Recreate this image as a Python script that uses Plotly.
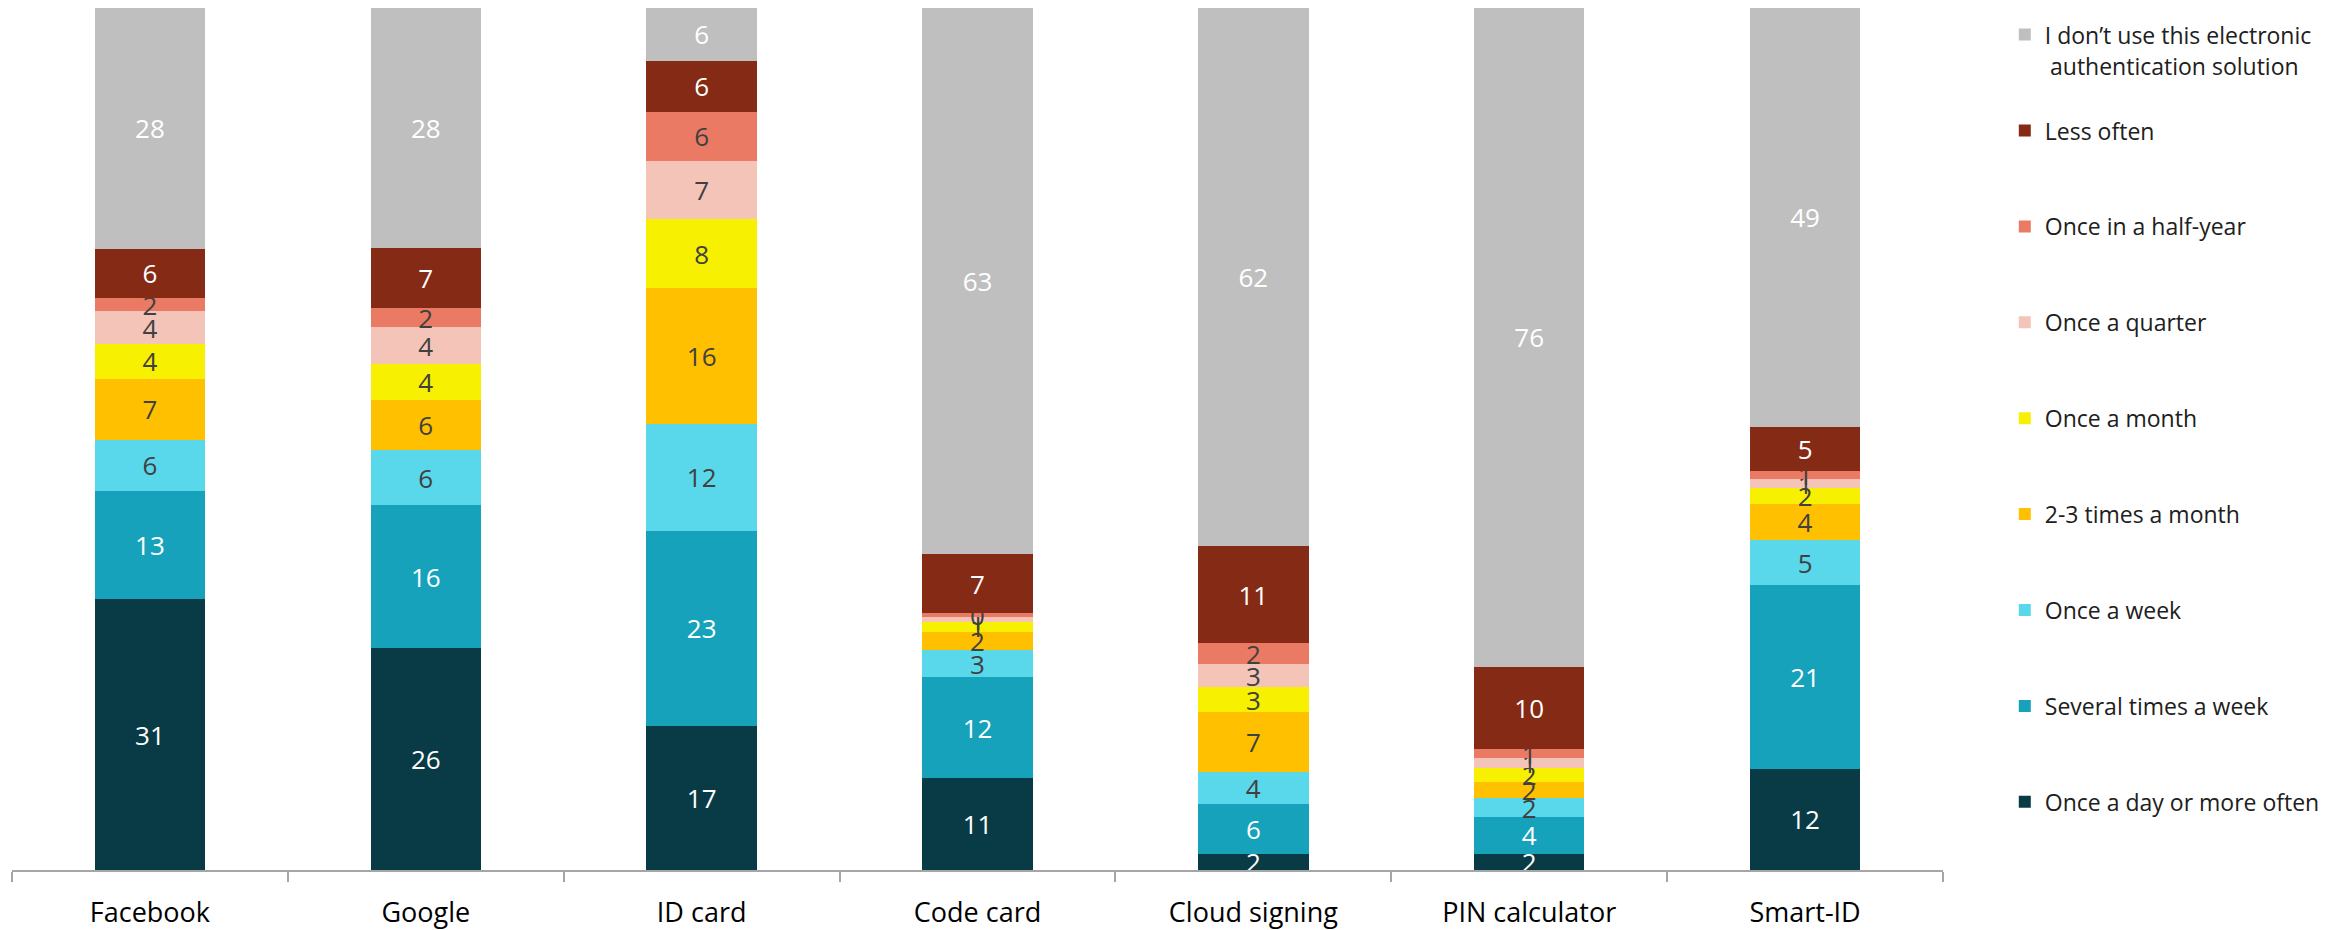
import plotly.graph_objects as go

categories = ["Facebook", "Google", "ID card", "Code card", "Cloud signing", "PIN calculator", "Smart-ID"]

series_names = [
    "Once a day or more often",
    "Several times a week",
    "Once a week",
    "2-3 times a month",
    "Once a month",
    "Once a quarter",
    "Once in a half-year",
    "Less often",
    "I don’t use this electronic",
]
last_name_line2 = "authentication solution"

once_a_day = [31.4, 25.6, 16.7, 10.6, 1.9, 1.9, 11.8]
several_week = [12.6, 16.4, 22.6, 11.7, 5.8, 4.3, 21.4]
once_week = [5.9, 6.4, 12.4, 3.2, 3.7, 2.1, 5.2]
two_three_month = [7.1, 5.7, 15.7, 2.1, 6.9, 1.9, 4.2]
once_month = [4.0, 4.2, 8.0, 1.1, 2.9, 1.6, 1.9]
once_quarter = [3.8, 4.2, 6.8, 0.6, 2.7, 1.2, 1.0]
half_year = [1.6, 2.2, 5.7, 0.4, 2.4, 1.0, 1.0]
less_often = [5.7, 7.0, 5.9, 6.9, 11.3, 9.6, 5.1]
dont_use = [27.9, 27.6, 6.1, 63.2, 62.4, 76.4, 48.8]

all_values = [once_a_day, several_week, once_week, two_three_month, once_month,
              once_quarter, half_year, less_often, dont_use]

colors = ["#083B46", "#15A2BA", "#5AD8EB", "#FFC000", "#F7F000",
          "#F4C4B8", "#EB7A64", "#852A14", "#BFBFBF"]
text_colors = ["white", "white", "#404040", "#404040", "#404040",
               "#404040", "#404040", "white", "white"]

FONT = "Open Sans"

fig = go.Figure()
n = len(series_names)
for i, (name, vals) in enumerate(zip(series_names, all_values)):
    fig.add_trace(go.Bar(
        x=categories,
        y=vals,
        name=name,
        marker=dict(color=colors[i], line=dict(width=0)),
        width=0.4,
        text=[str(int(round(v))) for v in vals],
        textposition="inside",
        insidetextanchor="middle",
        constraintext="none",
        textangle=0,
        textfont=dict(color=text_colors[i], size=26, family=FONT),
        legendgroup="g%d" % i,
        legendrank=n - i,
        hoverinfo="skip",
    ))

plot_top_px = 8
plot_h = 930 - 68

fig.add_annotation(
    xref="paper", yref="paper",
    x=(2048 - 12) / 1931, xanchor="left",
    y=1 - (66 - plot_top_px) / plot_h, yanchor="middle",
    text=last_name_line2,
    showarrow=False,
    font=dict(size=23, family=FONT, color="#202020"),
)

fig.update_layout(
    barmode="stack",
    barnorm="percent",
    width=2349,
    height=930,
    margin=dict(l=4, r=414, t=0, b=68),
    plot_bgcolor="white",
    paper_bgcolor="white",
    font=dict(family=FONT, color="#000000"),
    showlegend=True,
    legend=dict(
        x=1.032, xanchor="left",
        y=0.994, yanchor="top",
        traceorder="grouped",
        tracegroupgap=63,
        font=dict(size=23, family=FONT, color="#202020"),
        itemwidth=30,
        bgcolor="rgba(0,0,0,0)",
    ),
    xaxis=dict(
        range=[-0.5, 6.5],
        showline=True,
        linecolor="#A6A6A6",
        linewidth=2,
        ticks="outside",
        tickson="boundaries",
        ticklen=10,
        tickcolor="#A6A6A6",
        tickwidth=2,
        ticklabelstandoff=18,
        tickfont=dict(size=27, family=FONT, color="#000000"),
        showgrid=False,
    ),
    yaxis=dict(
        range=[0, 100],
        showticklabels=False,
        showgrid=False,
        zeroline=False,
        showline=False,
    ),
)

fig.write_html("out.html")
